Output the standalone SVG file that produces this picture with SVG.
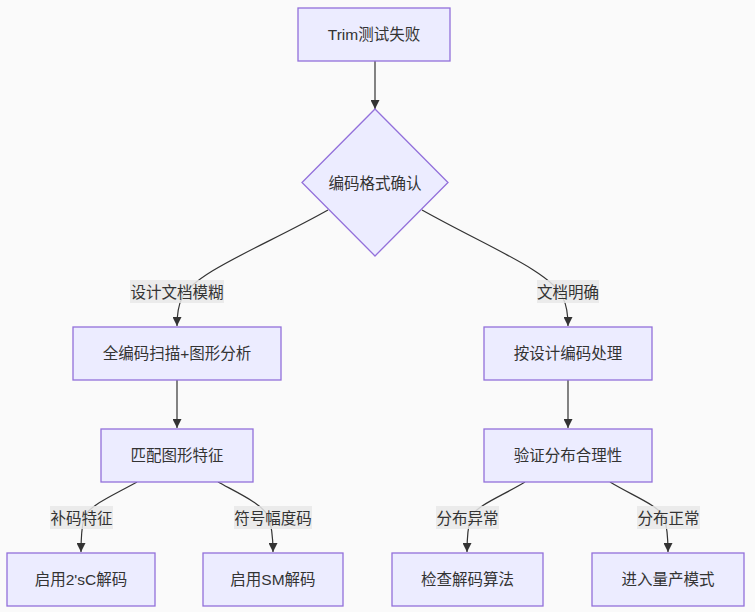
<svg xmlns="http://www.w3.org/2000/svg" width="755" height="612" viewBox="0 0 755 612">
<defs>
<marker id="arrow" viewBox="0 0 10 10" refX="10" refY="5" markerWidth="9" markerHeight="9" markerUnits="userSpaceOnUse" orient="auto">
<path d="M0,0 L10,5 L0,10 z" fill="#333333"/>
</marker>
</defs>
<style>
.node rect, .node polygon { fill: #ECECFF; stroke: #9370DB; stroke-width: 1.3; }
.node text { font-family: "Liberation Sans", "Noto Sans CJK SC", sans-serif; font-size: 15.5px; fill: #333333; text-anchor: middle; dominant-baseline: central; }
.edge { fill: none; stroke: #333333; stroke-width: 1.2; marker-end: url(#arrow); }
.lbl rect { fill: #E8E8E8; fill-opacity: 0.85; }
.lbl text { font-family: "Liberation Sans", "Noto Sans CJK SC", sans-serif; font-size: 15.5px; fill: #333333; text-anchor: middle; dominant-baseline: central; }
</style>
<rect width="755" height="612" fill="#FAFAFA"/>
<g id="connectors">
<path class="edge" d="M375,61 L375,109"/>
<path class="edge" d="M328,210 C262,247 195,272 182,298 C178,306 177,314 177,326"/>
<path class="edge" d="M422,210 C488,247 552,272 563,298 C567,306 568,314 568,326"/>
<path class="edge" d="M177,380 L177,428"/>
<path class="edge" d="M568,380 L568,428"/>
<path class="edge" d="M137,482 C110,497 88,506 84,518 C82,526 81,536 81,552"/>
<path class="edge" d="M218,482 C240,494 262,504 268,516 C272,526 273,536 273,552"/>
<path class="edge" d="M525,482 C502,496 477,505 471,517 C468,526 467,536 467,552"/>
<path class="edge" d="M610,482 C633,496 658,505 664,517 C667,526 668,536 668,552"/>
</g>
<g id="edge-labels">
<g class="lbl" id="lbl-blur"><rect x="130" y="280" width="94" height="23"/><text x="177" y="292">设计文档模糊</text></g>
<g class="lbl" id="lbl-clear"><rect x="537" y="280" width="62" height="23"/><text x="568" y="292">文档明确</text></g>
<g class="lbl" id="lbl-2sc"><rect x="50" y="506" width="63" height="23"/><text x="81.5" y="518">补码特征</text></g>
<g class="lbl" id="lbl-sm"><rect x="234" y="506" width="78" height="23"/><text x="273" y="518">符号幅度码</text></g>
<g class="lbl" id="lbl-abn"><rect x="436" y="506" width="63" height="23"/><text x="467.5" y="518">分布异常</text></g>
<g class="lbl" id="lbl-norm"><rect x="637" y="506" width="63" height="23"/><text x="668.5" y="518">分布正常</text></g>
</g>
<g class="node" id="trim-fail"><rect x="298" y="8" width="152" height="53"/><text x="374" y="34.5">Trim测试失败</text></g>
<g class="node" id="format-check"><polygon points="375,109 448,182.5 375,256 302,182.5"/><text x="375" y="183">编码格式确认</text></g>
<g class="node" id="full-scan"><rect x="73" y="327" width="208" height="53"/><text x="177" y="353.5">全编码扫描+图形分析</text></g>
<g class="node" id="design-proc"><rect x="484" y="327" width="168" height="53"/><text x="568" y="353.5">按设计编码处理</text></g>
<g class="node" id="match-pattern"><rect x="101" y="429" width="152" height="53"/><text x="177" y="455.5">匹配图形特征</text></g>
<g class="node" id="verify-dist"><rect x="484" y="429" width="168" height="53"/><text x="568" y="455.5">验证分布合理性</text></g>
<g class="node" id="use-2sc"><rect x="7" y="553" width="148" height="53"/><text x="81" y="579.5">启用2'sC解码</text></g>
<g class="node" id="use-sm"><rect x="203" y="553" width="140" height="53"/><text x="273" y="579.5">启用SM解码</text></g>
<g class="node" id="check-algo"><rect x="392" y="553" width="151" height="53"/><text x="467.5" y="579.5">检查解码算法</text></g>
<g class="node" id="mass-prod"><rect x="592" y="553" width="152" height="53"/><text x="668" y="579.5">进入量产模式</text></g>
</svg>
